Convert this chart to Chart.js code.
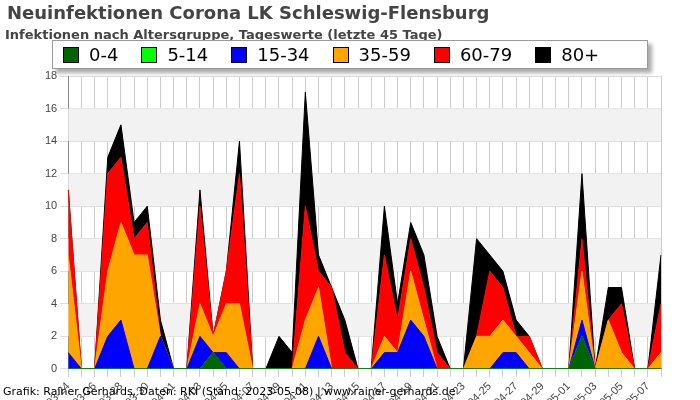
<!DOCTYPE html>
<html>
<head>
<meta charset="utf-8">
<script src="https://cdn.jsdelivr.net/npm/chart.js@4/dist/chart.umd.min.js"></script>
<style>
body{margin:0;background:#fff;font-family:"DejaVu Sans",sans-serif}
#wrap{position:relative;width:700px;height:400px;overflow:hidden}
#titel{position:absolute;left:7px;top:2px;font-size:18px;font-weight:bold;color:#444}
#sub{position:absolute;left:5px;top:27px;font-size:13px;font-weight:bold;color:#444;white-space:nowrap}
#leg{position:absolute;left:52px;top:40px;width:594px;height:27px;background:#fff;border:1px solid #999;box-shadow:4px 4px 4px #aaa;display:flex;align-items:center;font-size:18px;z-index:2}
#leg span{display:inline-flex;align-items:center;margin-left:10px;margin-right:13px}
#leg i{display:inline-block;width:14px;height:14px;border:1px solid #000;margin-right:10px}
#fuss{position:absolute;left:3px;top:385px;font-size:11px;color:#000;z-index:2}
#grafik{position:absolute;left:0;top:0}
</style>
</head>
<body>
<div id="wrap">
<canvas id="grafik" width="700" height="432"></canvas>
<div id="titel">Neuinfektionen Corona LK Schleswig-Flensburg</div>
<div id="sub">Infektionen nach Altersgruppe, Tageswerte (letzte 45 Tage)</div>
<div id="leg"></div>
<div id="fuss">Grafik: Rainer Gerhards, Daten: RKI (Stand: 2023-05-08) | www.rainer-gerhards.de</div>
</div>
<script>
var tage=['2023-03-24','2023-03-25','2023-03-26','2023-03-27','2023-03-28','2023-03-29','2023-03-30','2023-03-31','2023-04-01','2023-04-02','2023-04-03','2023-04-04','2023-04-05','2023-04-06','2023-04-07','2023-04-08','2023-04-09','2023-04-10','2023-04-11','2023-04-12','2023-04-13','2023-04-14','2023-04-15','2023-04-16','2023-04-17','2023-04-18','2023-04-19','2023-04-20','2023-04-21','2023-04-22','2023-04-23','2023-04-24','2023-04-25','2023-04-26','2023-04-27','2023-04-28','2023-04-29','2023-04-30','2023-05-01','2023-05-02','2023-05-03','2023-05-04','2023-05-05','2023-05-06','2023-05-07','2023-05-08']
var alter0_4  =[0,0,0,0,0,0,0,0,0,0,0,1,0,0,0,0,0,0,0,0,0,0,0,0,0,0,0,0,0,0,0,0,0,0,0,0,0,0,0,2,0,0,0,0,0,0]
var alter5_14 =[0,0,0,0,0,0,0,0,0,0,0,0,0,0,0,0,0,0,0,0,0,0,0,0,0,0,0,0,0,0,0,0,0,0,0,0,0,0,0,0,0,0,0,0,0,0]
var alter15_34=[1,0,0,2,3,0,0,2,0,0,2,0,1,0,0,0,0,0,0,2,0,0,0,0,1,1,3,2,0,0,0,0,0,1,1,0,0,0,0,1,0,0,0,0,0,0]
var alter35_59=[6,0,0,4,6,7,7,0,0,0,2,1,3,4,0,0,0,0,3,3,0,0,0,0,1,0,3,1,0,0,0,2,2,2,1,1,0,0,0,3,0,3,1,0,0,1]
var alter60_79=[4,0,0,6,4,1,2,0,0,0,6,0,2,8,0,0,0,0,7,1,5,1,0,0,5,2,2,2,1,0,0,0,4,2,0,1,0,0,0,2,0,0,3,0,0,3]
var alter80   =[0,0,0,1,2,1,1,1,0,0,1,0,0,2,0,0,2,1,7,1,0,2,0,0,3,1,1,2,1,0,0,6,1,1,1,0,0,0,0,4,0,2,1,0,0,3]
var gruppen=['0-4','5-14','15-34','35-59','60-79','80+']
var farben=['#006400','#00ff00','#0000ff','#ffa500','#ff0000','#000000']
var reihen=[alter0_4,alter5_14,alter15_34,alter35_59,alter60_79,alter80]

var leg=document.getElementById('leg')
gruppen.forEach((g,i)=>{
  var s=document.createElement('span')
  s.innerHTML='<i style="background:'+farben[i]+'"></i>'+g
  leg.appendChild(s)
})

var baender={id:'baender',beforeDatasetsDraw(c){
  var ctx=c.ctx,a=c.chartArea,y=c.scales.y
  ctx.save();ctx.fillStyle='#f2f2f2'
  for(var v=2;v<18;v+=4){var t=y.getPixelForValue(v+2),b=y.getPixelForValue(v);ctx.fillRect(a.left,t,a.right-a.left,b-t)}
  ctx.restore()
}}

new Chart(document.getElementById('grafik'),{
  type:'line',
  data:{labels:tage,datasets:reihen.map((r,i)=>({label:gruppen[i],data:r,backgroundColor:farben[i],borderColor:farben[i],borderWidth:1,fill:i==0?'origin':'-1',pointRadius:0,tension:0}))},
  options:{animation:false,responsive:false,
    layout:{padding:{top:76,left:42,right:39}},
    plugins:{legend:{display:false},tooltip:{enabled:false}},
    scales:{
      x:{grid:{color:'#cccccc'},border:{color:'#888'},ticks:{autoSkip:false,maxRotation:45,minRotation:45,color:'#444',font:{size:11},
        callback:function(v,i){return i%2==0?this.getLabelForValue(v):''}}},
      y:{stacked:true,min:0,max:18,grid:{color:'#dddddd'},border:{color:'#888'},ticks:{stepSize:2,color:'#444',font:{size:11}}}
    }},
  plugins:[baender]
})
</script>
</body>
</html>
